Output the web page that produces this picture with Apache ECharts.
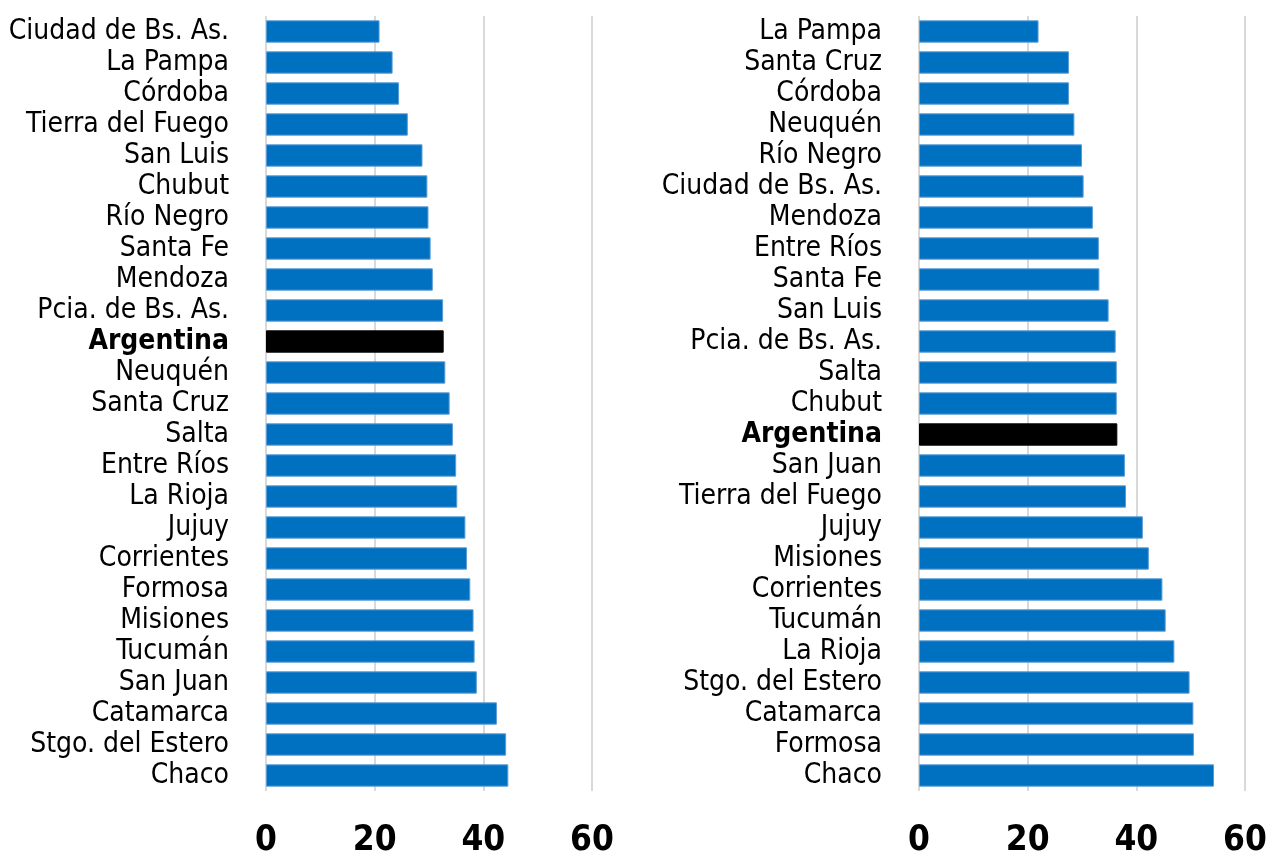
<!DOCTYPE html>
<html>
<head>
<meta charset="utf-8">
<title>Provincias</title>
<script src="https://cdn.jsdelivr.net/npm/echarts@6/dist/echarts.min.js"></script>
<style>
  html, body { margin: 0; padding: 0; background: #fff; }
  #chart { width: 1266px; height: 856px; }
</style>
</head>
<body>
<div id="chart"></div>
<script>
var leftCategories = ['Ciudad de Bs. As.', 'La Pampa', 'Córdoba', 'Tierra del Fuego', 'San Luis', 'Chubut',
    'Río Negro', 'Santa Fe', 'Mendoza', 'Pcia. de Bs. As.', 'Argentina', 'Neuquén', 'Santa Cruz', 'Salta',
    'Entre Ríos', 'La Rioja', 'Jujuy', 'Corrientes', 'Formosa', 'Misiones', 'Tucumán', 'San Juan',
    'Catamarca', 'Stgo. del Estero', 'Chaco'];
var leftValues = [20.9, 23.3, 24.5, 26.1, 28.8, 29.7, 29.9, 30.3, 30.7, 32.6, 32.7, 33.0, 33.8, 34.4,
    35.0, 35.2, 36.7, 37.0, 37.6, 38.2, 38.4, 38.8, 42.5, 44.2, 44.6];

var rightCategories = ['La Pampa', 'Santa Cruz', 'Córdoba', 'Neuquén', 'Río Negro', 'Ciudad de Bs. As.',
    'Mendoza', 'Entre Ríos', 'Santa Fe', 'San Luis', 'Pcia. de Bs. As.', 'Salta', 'Chubut', 'Argentina',
    'San Juan', 'Tierra del Fuego', 'Jujuy', 'Misiones', 'Corrientes', 'Tucumán', 'La Rioja',
    'Stgo. del Estero', 'Catamarca', 'Formosa', 'Chaco'];
var rightValues = [22.0, 27.6, 27.6, 28.6, 30.0, 30.3, 32.0, 33.1, 33.2, 34.9, 36.2, 36.4, 36.4, 36.5,
    37.9, 38.1, 41.2, 42.3, 44.8, 45.4, 47.0, 49.8, 50.5, 50.6, 54.3];

var axisMin = 0, axisMax = 60, axisStep = 20;
var highlight = 'Argentina';

(function(window, document, undefined) {
    var labelFont = "'Liberation Sans Narrow', 'DejaVu Sans Condensed', sans-serif";

    function barData(cats, vals) {
        return vals.map(function(v, i) {
            if (cats[i] === highlight) {
                return { value: v, itemStyle: { color: '#000000', borderColor: '#000000' } };
            }
            return v;
        });
    }

    function xAxis(idx) {
        return {
            type: 'value',
            gridIndex: idx,
            min: axisMin,
            max: axisMax,
            interval: axisStep,
            axisLine: { show: false },
            axisTick: { show: false },
            splitLine: { show: true, lineStyle: { color: '#d9d9d9', width: 2 } },
            axisLabel: {
                margin: 32,
                color: '#000',
                fontFamily: labelFont,
                fontWeight: 'bold',
                fontSize: 35
            }
        };
    }

    function yAxis(idx, cats) {
        return {
            type: 'category',
            gridIndex: idx,
            data: cats,
            inverse: true,
            axisLine: { show: false },
            axisTick: { show: false },
            splitLine: { show: false },
            axisLabel: {
                interval: 0,
                margin: 37,
                color: '#000',
                fontFamily: labelFont,
                fontSize: 28,
                formatter: function(v) {
                    return v === highlight ? '{b|' + v + '}' : v;
                },
                rich: {
                    b: { fontFamily: labelFont, fontSize: 28, fontWeight: 'bold', color: '#000' }
                }
            }
        };
    }

    function serie(idx, cats, vals) {
        return {
            type: 'bar',
            xAxisIndex: idx,
            yAxisIndex: idx,
            data: barData(cats, vals),
            barCategoryGap: '28%',
            itemStyle: { color: '#0070c0', borderColor: '#5b9bd5', borderWidth: 1 },
            animation: false
        };
    }

    var chart = echarts.init(document.getElementById('chart'), null, { renderer: 'canvas' });

    chart.setOption({
        backgroundColor: '#ffffff',
        animation: false,
        grid: [
            { left: 266, right: 674, top: 16, bottom: 65, containLabel: false, outerBoundsMode: 'none' },
            { left: 919, right: 21, top: 16, bottom: 65, containLabel: false, outerBoundsMode: 'none' }
        ],
        xAxis: [xAxis(0), xAxis(1)],
        yAxis: [yAxis(0, leftCategories), yAxis(1, rightCategories)],
        series: [
            serie(0, leftCategories, leftValues),
            serie(1, rightCategories, rightValues)
        ]
    });
})(window, document);
</script>
</body>
</html>
